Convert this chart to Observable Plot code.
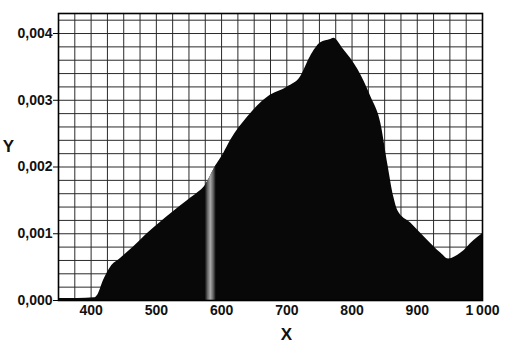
<!DOCTYPE html>
<html>
<head>
<meta charset="utf-8">
<script src="https://cdn.jsdelivr.net/npm/d3@7"></script>
<script src="https://cdn.jsdelivr.net/npm/@observablehq/plot@0.6"></script>
<style>
  html, body { margin: 0; padding: 0; background: #fff; }
  svg { display: block; }
</style>
</head>
<body>
<div id="chart"></div>
<script>
const xs = [350, 380, 405, 410, 419, 430, 445, 465, 486, 506, 526, 548, 563, 575, 588, 592, 603, 614, 640, 671, 701, 721, 736, 752, 767, 772, 787, 809, 829, 844, 855, 864, 870, 890, 916, 936, 948, 967, 987, 1000];
const ys = [0.00003, 0.00003, 0.00004, 0.00008, 0.0003, 0.0005, 0.00063, 0.0008, 0.001, 0.00117, 0.00133, 0.0015, 0.00161, 0.00172, 0.00196, 0.00203, 0.0022, 0.0024, 0.00275, 0.00305, 0.0032, 0.00335, 0.00365, 0.00386, 0.00391, 0.00393, 0.00376, 0.00346, 0.00305, 0.00266, 0.00203, 0.00155, 0.00135, 0.00116, 0.0009, 0.00071, 0.00062, 0.00071, 0.0009, 0.001];
const xTicks = [400, 500, 600, 700, 800, 900, 1000];
const yTicks = [0, 0.001, 0.002, 0.003, 0.004];
const xGrid = [375, 400, 425, 450, 475, 500, 525, 550, 575, 600, 625, 650, 675, 700, 725, 750, 775, 800, 825, 850, 875, 900, 925, 950, 975];
const yGrid = [0.0002, 0.0004, 0.0006, 0.0008, 0.001, 0.0012, 0.0014, 0.0016, 0.0018, 0.002, 0.0022, 0.0024, 0.0026, 0.0028, 0.003, 0.0032, 0.0034, 0.0036, 0.0038, 0.004, 0.0042];
const bandRange = [575, 592];

const data = xs.map((x, i) => ({x, y: ys[i]}));
const band = data.filter(d => d.x >= bandRange[0] && d.x <= bandRange[1]);

const font = "'Liberation Sans', Arial, sans-serif";

const chart = Plot.plot({
  width: 511,
  height: 346,
  marginLeft: 58,
  marginRight: 29,
  marginTop: 13,
  marginBottom: 46,
  style: {fontFamily: font, background: "#fff", color: "#111"},
  x: {domain: [350, 1000]},
  y: {domain: [0, 0.0043]},
  marks: [
    Plot.gridX(xGrid, {stroke: "#2a2a2a", strokeOpacity: 1, strokeWidth: 1}),
    Plot.gridY(yGrid, {stroke: "#2a2a2a", strokeOpacity: 1, strokeWidth: 1}),
    Plot.areaY(data, {x: "x", y: "y", fill: "#080808", curve: "monotone-x"}),
    Plot.areaY(band, {x: "x", y: "y", fill: "url(#bandGrad)", curve: "monotone-x"}),
    Plot.frame({stroke: "#000", strokeWidth: 1.6}),
    Plot.axisY(yTicks, {
      tickSize: 5, tickPadding: 1, fontSize: 14, fontWeight: "bold",
      tickFormat: d => d.toFixed(3).replace(".", ","),
      label: null, stroke: "#000"
    }),
    Plot.axisX(xTicks, {
      tickSize: 0, tickPadding: 5, fontSize: 14, fontWeight: "bold",
      tickFormat: d => d >= 1000 ? d3.format(",")(d).replace(",", "\u2009") : String(d),
      label: null
    }),
    Plot.text(["Y"], {frameAnchor: "left", dx: -50, dy: -10, text: d => d, fontSize: 17, fontWeight: "bold", lineAnchor: "middle", textAnchor: "middle"}),
    Plot.text(["X"], {frameAnchor: "bottom", dx: 16, dy: 34, text: d => d, fontSize: 17, fontWeight: "bold", lineAnchor: "middle", textAnchor: "middle"})
  ]
});

const ns = "http://www.w3.org/2000/svg";
const defs = document.createElementNS(ns, "defs");
const grad = document.createElementNS(ns, "linearGradient");
grad.setAttribute("id", "bandGrad");
grad.setAttribute("x1", "0"); grad.setAttribute("x2", "1");
grad.setAttribute("y1", "0"); grad.setAttribute("y2", "0");
[["0%", "#080808"], ["25%", "#666"], ["50%", "#aaa"], ["75%", "#666"], ["100%", "#080808"]].forEach(([o, c]) => {
  const s = document.createElementNS(ns, "stop");
  s.setAttribute("offset", o);
  s.setAttribute("stop-color", c);
  grad.appendChild(s);
});
defs.appendChild(grad);
chart.insertBefore(defs, chart.firstChild);

document.getElementById("chart").appendChild(chart);
</script>
</body>
</html>
